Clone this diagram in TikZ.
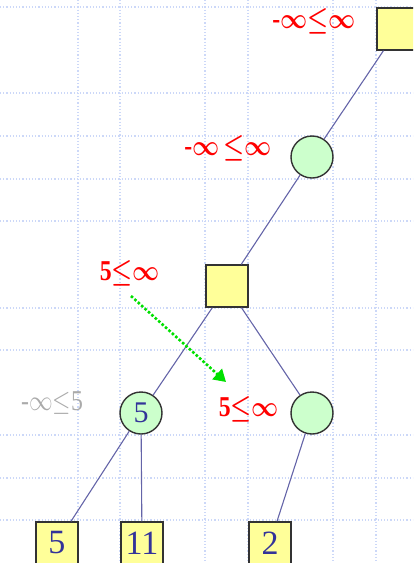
\documentclass[tikz,border=0pt]{standalone}
\usepackage{fontspec}
\usepackage{graphicx}
\setmainfont{Liberation Serif}
\usetikzlibrary{arrows.meta}
\definecolor{gridblue}{HTML}{CCD8F8}
\definecolor{maxfill}{HTML}{FFFF99}
\definecolor{minfill}{HTML}{CCFFCC}
\definecolor{edgeblue}{HTML}{6464A8}
\definecolor{valblue}{HTML}{333399}
\definecolor{boundred}{HTML}{FF0000}
\definecolor{boundgrey}{HTML}{AAAAAA}
\definecolor{hintgreen}{HTML}{00E000}
\newcommand{\inff}{\ensuremath{\infty}}
\newcommand{\lle}{\ensuremath{\leq}}
\newcommand{\tallbound}[1]{\scalebox{0.95}[1.15]{#1}}
\tikzset{
  maxnode/.style={rectangle, draw=black!80, fill=maxfill, line width=1.4pt,
    minimum size=42pt, inner sep=0pt, text=valblue, font=\fontsize{34}{34}\selectfont},
  minnode/.style={circle, draw=black!80, fill=minfill, line width=1.4pt,
    minimum size=42pt, inner sep=0pt, text=valblue, font=\fontsize{30}{30}\selectfont},
  bound/.style={text=boundred, font=\fontsize{25}{25}\selectfont\bfseries\boldmath, inner sep=0pt},
  oldbound/.style={text=boundgrey, font=\fontsize{25}{25}\selectfont, inner sep=0pt},
  treeedge/.style={draw=edgeblue, line width=1.1pt},
}
\begin{document}
\begin{tikzpicture}[x=1pt,y=-1pt]
    \useasboundingbox (0,0) rectangle (413,563);
    \clip (0,0) rectangle (413,563);
    % background grid
    \foreach \gx in {78,120,205,248,333,376}
        \draw[gridblue, dotted, line width=1.2pt] (\gx,0) -- (\gx,563);
    \foreach \gy in {7,93,136,179,221,308,350,435,478,520}
        \draw[gridblue, dotted, line width=1.2pt] (0,\gy) -- (413,\gy);
    % tree nodes
    \node[maxnode] (root) at (398,29) {};
    \node[minnode] (a) at (312,157) {};
    \node[maxnode] (b) at (227,286) {};
    \node[minnode] (c) at (141,413) {5};
    \node[minnode] (d) at (312,413) {};
    \node[maxnode] (l1) at (57,543) {5};
    \node[maxnode] (l2) at (142,543) {11};
    \node[maxnode] (l3) at (270,543) {2};
    % edges
    \draw[treeedge] (root) -- (a);
    \draw[treeedge] (a) -- (b);
    \draw[treeedge] (b) -- (c);
    \draw[treeedge] (b) -- (d);
    \draw[treeedge] (c) -- (l1);
    \draw[treeedge] (c) -- (l2);
    \draw[treeedge] (d) -- (l3);
    % alpha-beta windows
    \node[bound] (wroot) at (314,21) {\tallbound{-\inff\lle\inff}};
    \node[bound] (wa) at (228,148) {\tallbound{-\inff\,\lle\inff}};
    \node[bound] (wb) at (130,273) {\tallbound{5\lle\inff}};
    \node[oldbound] (wc) at (52,403) {\tallbound{-\inff\lle5}};
    \node[bound] (wd) at (249,409) {\tallbound{5\lle\inff}};
    % window handed down
    \coordinate (hint) at (226,382);
    \draw[hintgreen, dotted, line width=2.6pt, -{Triangle[length=12pt,width=14pt]}] (131,296) -- (hint);
\end{tikzpicture}
\end{document}
